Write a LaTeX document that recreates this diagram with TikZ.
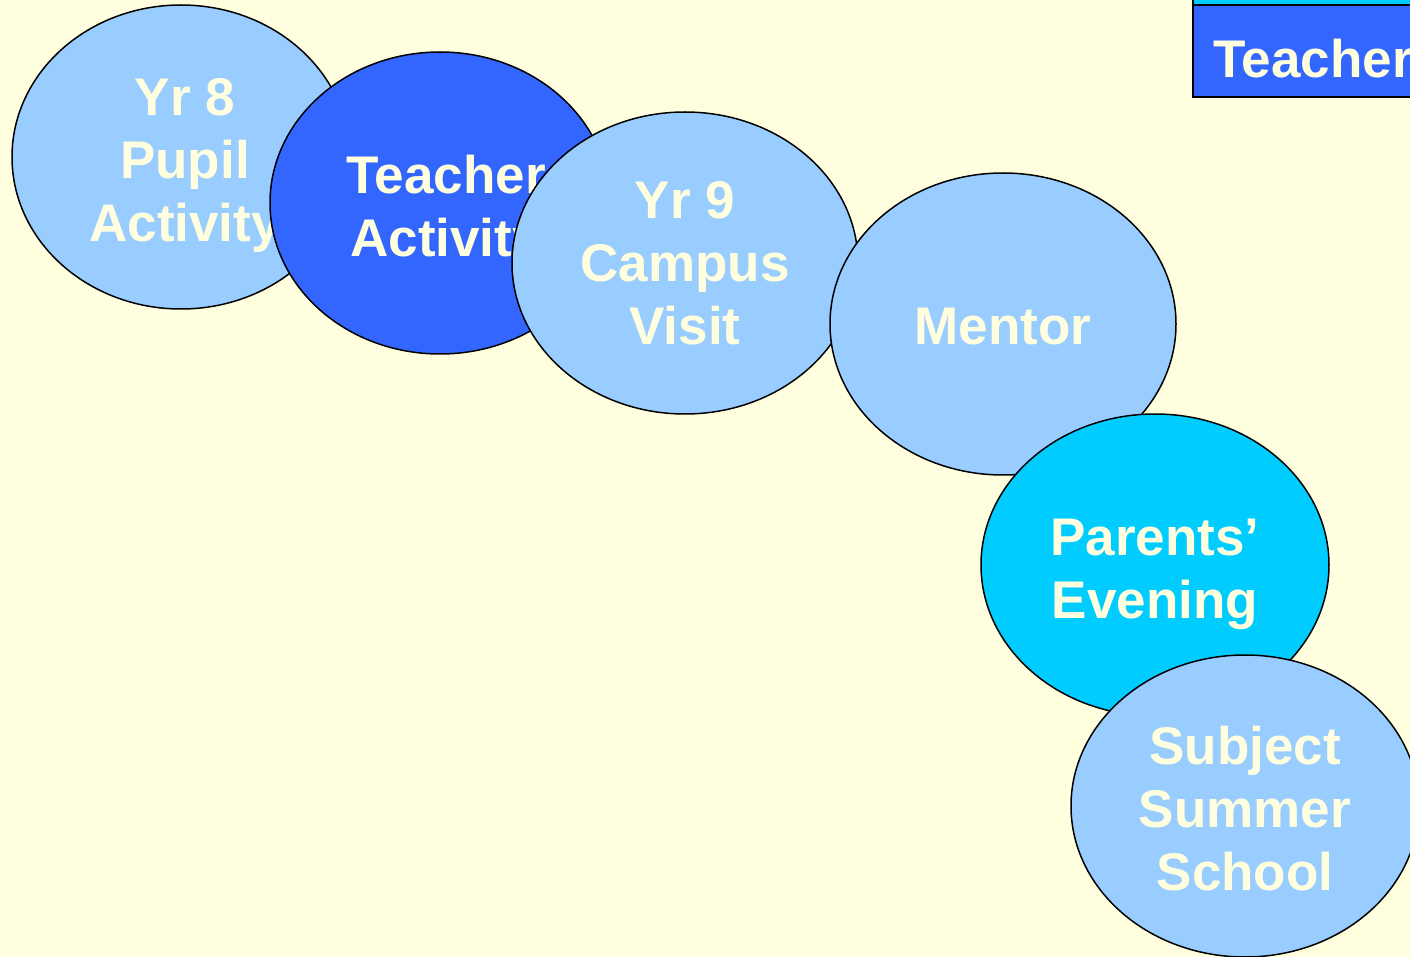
\documentclass[tikz,border=0pt]{standalone}
\usepackage{fontspec}
\setmainfont{Liberation Sans}
\usetikzlibrary{shapes.geometric}

\definecolor{paper}{HTML}{FFFFE0}
\definecolor{pale}{HTML}{99CCFF}
\definecolor{royal}{HTML}{3366FF}
\definecolor{sky}{HTML}{00CCFF}

\begin{document}
\begin{tikzpicture}[
  x=0.5pt, y=-0.5pt,
  every node/.style={text=paper, font=\bfseries\fontsize{26.5}{31.5}\selectfont, align=center},
  bubble/.style={draw, ellipse, line width=0.75pt, inner sep=0pt, minimum width=173pt, minimum height=151pt},
  keybox/.style={draw, line width=0.75pt},
]

\clip (0,0) rectangle (1410,957);
\fill[paper] (0,0) rectangle (1410,957);

% key in the corner
\draw[keybox, fill=sky] (1193,-40) rectangle (1600,5);
\draw[keybox, fill=royal] (1193,5) rectangle (1600,97);
\node (keyteacher) [anchor=base west, inner sep=0pt] at (1213,78) {Teacher};

% text as labels so it can sit a bit off centre
\node (yr8) [bubble, fill=pale, minimum width=169pt, minimum height=152pt,
  label={[xshift=2pt, yshift=-4pt]center:{Yr 8\\Pupil\\Activity}}] at (181,157) {};
\node (teacher) [bubble, fill=royal, minimum width=170pt,
  label={[xshift=3pt, yshift=-4pt]center:{Teacher\\Activity}}] at (440,203) {};
\node (yr9) [bubble, fill=pale,
  label={center:{Yr 9\\Campus\\Visit}}] at (685,263) {};
\node (mentor) [bubble, fill=pale,
  label={[yshift=-1.5pt]center:Mentor}] at (1003,324) {};
\node (parents) [bubble, fill=sky, minimum width=174pt,
  label={[yshift=-4.5pt]center:{Parents’\\Evening}}] at (1155,565) {};
\node (summer) [bubble, fill=pale, minimum width=174pt,
  label={[yshift=-1.5pt]center:{Subject\\Summer\\School}}] at (1245,806) {};

\end{tikzpicture}
\end{document}
